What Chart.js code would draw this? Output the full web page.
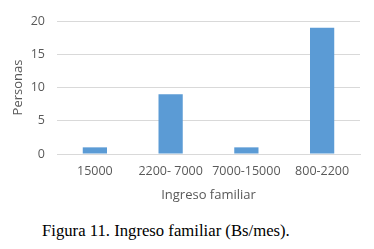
<!DOCTYPE html>
<html>
<head>
<meta charset="utf-8">
<script src="https://cdn.jsdelivr.net/npm/chart.js@4.4.0/dist/chart.umd.min.js"></script>
<style>
  html, body { margin: 0; padding: 0; background: #fff; }
  #wrap { position: absolute; left: 0; top: 0; width: 374px; height: 203px; }
  #caption {
    position: absolute; left: 42px; top: 221px;
    font-family: "Liberation Serif", "DejaVu Serif", serif;
    font-size: 16.7px; color: #000; white-space: nowrap;
  }
</style>
</head>
<body>
<div id="wrap"><canvas id="chart"></canvas></div>
<div id="caption">Figura 11. Ingreso familiar (Bs/mes).</div>
<script>
// Data
const categories = ['15000', '2200- 7000', '7000-15000', '800-2200'];
const personas = [1, 9, 1, 19];
const yTicks = [0, 5, 10, 15, 20];

const TEXT_GRAY = '#595959';
const FONT = "'Open Sans', 'Liberation Sans', sans-serif";

const ctx = document.getElementById('chart').getContext('2d');
new Chart(ctx, {
    type: 'bar',
    data: {
        labels: categories,
        datasets: [{
            label: 'Personas',
            data: personas,
            backgroundColor: '#5b9bd5',
            borderWidth: 0,
            categoryPercentage: 1.0,
            barPercentage: 0.32,
        }]
    },
    options: {
        responsive: true,
        maintainAspectRatio: false,
        animation: false,
        layout: { padding: { left: 0, right: 14, top: 21, bottom: 0 } },
        plugins: {
            legend: { display: false },
            tooltip: { enabled: false },
        },
        scales: {
            x: {
                afterFit: (scale) => { scale.height = 49; },
                grid: { display: false, drawTicks: false },
                border: { color: '#d9d9d9', width: 1 },
                ticks: {
                    color: TEXT_GRAY,
                    font: { family: FONT, size: 12.5 },
                    padding: 10,
                    maxRotation: 0,
                    autoSkip: false,
                },
                title: {
                    display: true,
                    text: 'Ingreso familiar',
                    color: TEXT_GRAY,
                    font: { family: FONT, size: 13 },
                    padding: { top: 6, bottom: 0 },
                },
            },
            y: {
                min: 0,
                max: 20,
                afterBuildTicks: (scale) => {
                    scale.ticks = yTicks.map(v => ({ value: v }));
                },
                afterFit: (scale) => { scale.width = 57; },
                grid: { color: '#d9d9d9', drawTicks: false },
                border: { display: false },
                ticks: {
                    color: TEXT_GRAY,
                    font: { family: FONT, size: 12.5 },
                    padding: 12,
                },
                title: {
                    display: true,
                    text: 'Personas',
                    color: TEXT_GRAY,
                    font: { family: FONT, size: 13 },
                    padding: { top: 10, bottom: 0 },
                },
            },
        },
    },
});
</script>
</body>
</html>
